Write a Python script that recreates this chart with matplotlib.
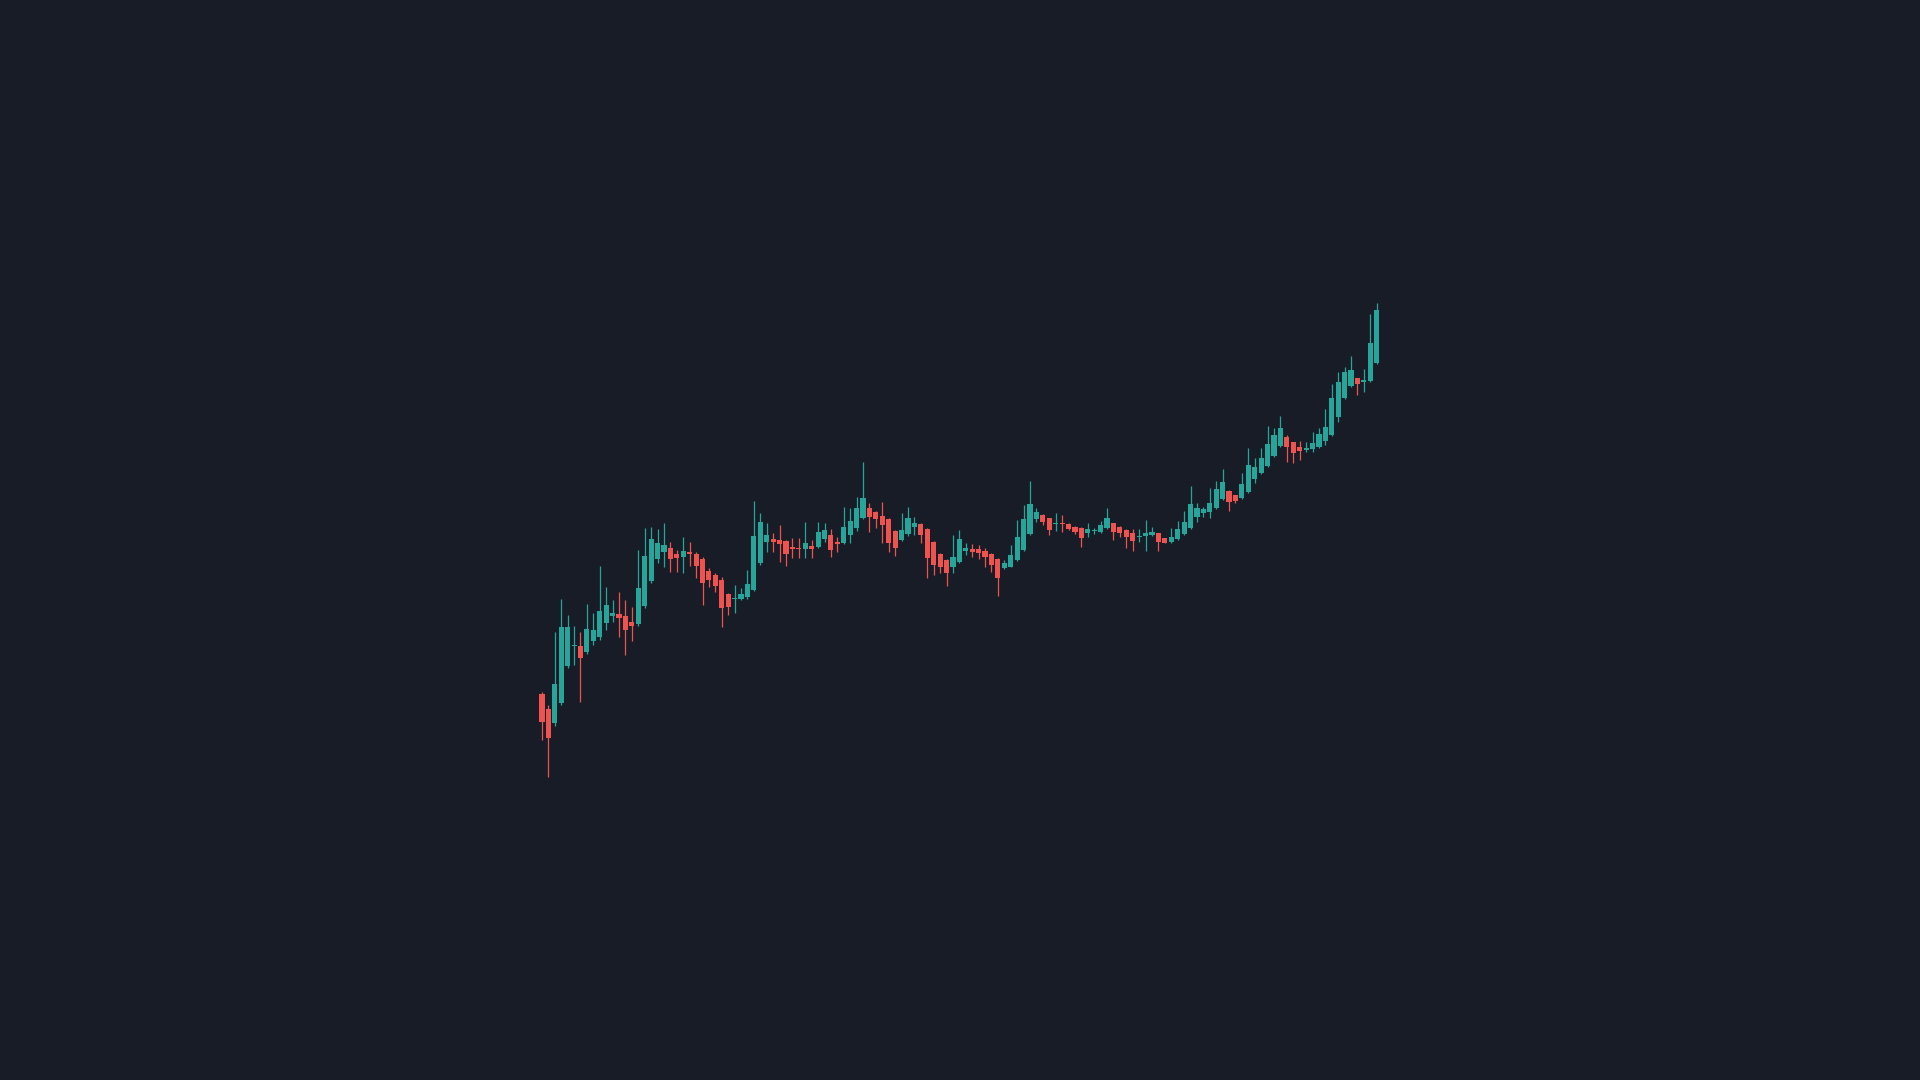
import numpy as np
import matplotlib
matplotlib.use('Agg')
import matplotlib.pyplot as plt

# OHLC values (arbitrary price units)
opens = [106, 91, 77, 97, 134, 154, 154, 148, 159, 163, 177, 184, 186, 184, 178, 176, 194, 219, 241, 248,
         252, 246, 243, 248, 246, 241, 229, 225, 220, 206, 201, 201, 203, 210, 237, 258, 261, 260, 259, 253,
         252, 251, 254, 253, 261, 265, 258, 257, 265, 272, 282, 292, 288, 284, 281, 269, 260, 266, 273, 276,
         271, 258, 246, 240, 233, 238, 249, 251, 251, 249, 246, 241, 232, 233, 240, 250, 266, 281, 285, 282,
         276, 277, 276, 273, 272, 267, 269, 268, 272, 277, 273, 270, 267, 263, 264, 265, 267, 262, 258, 261,
         266, 272, 283, 287, 288, 292, 301, 309, 305, 302, 308, 321, 327, 334, 344, 354, 363, 358, 353, 350,
         351, 353, 359, 365, 383, 402, 414, 422, 418, 419, 437]
highs = [108, 95, 168, 201, 185, 174, 168, 196, 187, 234, 213, 200, 208, 200, 193, 250, 272, 273, 271, 277,
         258, 250, 263, 258, 248, 243, 232, 227, 223, 207, 215, 212, 230, 299, 287, 277, 267, 275, 260, 262,
         262, 278, 260, 278, 277, 271, 263, 293, 292, 303, 338, 297, 289, 298, 282, 270, 287, 293, 283, 277,
         272, 259, 247, 241, 265, 270, 257, 256, 255, 252, 247, 242, 240, 255, 280, 295, 319, 292, 286, 282,
         287, 285, 277, 274, 273, 277, 272, 279, 292, 277, 274, 271, 271, 271, 280, 273, 267, 262, 272, 279,
         289, 314, 297, 293, 312, 319, 331, 310, 305, 327, 352, 342, 352, 374, 372, 384, 365, 358, 359, 358,
         368, 372, 391, 416, 428, 433, 444, 422, 431, 486, 497]
lows = [60, 23, 74, 95, 132, 135, 98, 146, 155, 160, 170, 178, 163, 145, 159, 174, 192, 217, 237, 233,
        228, 228, 227, 234, 222, 195, 213, 208, 173, 185, 187, 200, 201, 209, 235, 248, 248, 238, 234, 242,
        242, 242, 242, 252, 258, 243, 248, 256, 257, 269, 281, 268, 272, 257, 248, 244, 259, 264, 265, 257,
        222, 225, 227, 214, 227, 237, 245, 243, 241, 233, 228, 204, 231, 233, 239, 249, 265, 278, 275, 265,
        269, 268, 270, 266, 253, 263, 266, 267, 271, 260, 263, 252, 249, 258, 249, 264, 249, 257, 257, 260,
        265, 271, 278, 283, 282, 291, 300, 289, 297, 301, 307, 317, 326, 333, 343, 353, 338, 337, 340, 348,
        348, 352, 355, 364, 378, 401, 413, 405, 408, 418, 436]
closes = [78, 62, 116, 173, 173, 155, 142, 171, 170, 189, 195, 187, 182, 170, 174, 212, 244, 261, 257, 255,
          241, 242, 249, 246, 234, 217, 220, 214, 192, 193, 202, 206, 216, 264, 278, 265, 258, 256, 246, 251,
          251, 257, 251, 268, 270, 250, 256, 273, 279, 292, 302, 283, 281, 275, 257, 252, 270, 282, 277, 265,
          242, 235, 233, 227, 243, 261, 252, 248, 247, 243, 235, 222, 237, 245, 263, 281, 296, 288, 278, 270,
          277, 276, 271, 268, 262, 271, 270, 275, 282, 268, 267, 263, 259, 264, 267, 268, 258, 257, 263, 271,
          278, 296, 292, 291, 297, 311, 318, 298, 299, 316, 335, 333, 342, 356, 365, 372, 353, 347, 349, 352,
          357, 366, 373, 402, 418, 428, 430, 416, 420, 457, 490]

bg = '#181c27'
up_color = '#26a69a'
down_color = '#ef5350'

o = np.array(opens)
h = np.array(highs)
l = np.array(lows)
c = np.array(closes)
idx = np.arange(len(o))
colors = np.where(c >= o, up_color, down_color)

fig = plt.figure(figsize=(19.2, 10.8), dpi=100, facecolor=bg)
ax = fig.add_axes([0, 0, 1, 1])
ax.set_facecolor(bg)

# wicks
ax.vlines(idx, l, h, colors=colors, linewidth=0.9)
# bodies
body_bottom = np.minimum(o, c)
body_height = np.maximum(np.abs(c - o), 0.8)
ax.bar(idx, body_height, bottom=body_bottom, width=0.8, color=colors, linewidth=0)

ax.set_xlim(-84.4, 214.6)
ax.set_ylim(-280, 800)
ax.axis('off')

plt.savefig('out.png', dpi=100, facecolor=bg)
